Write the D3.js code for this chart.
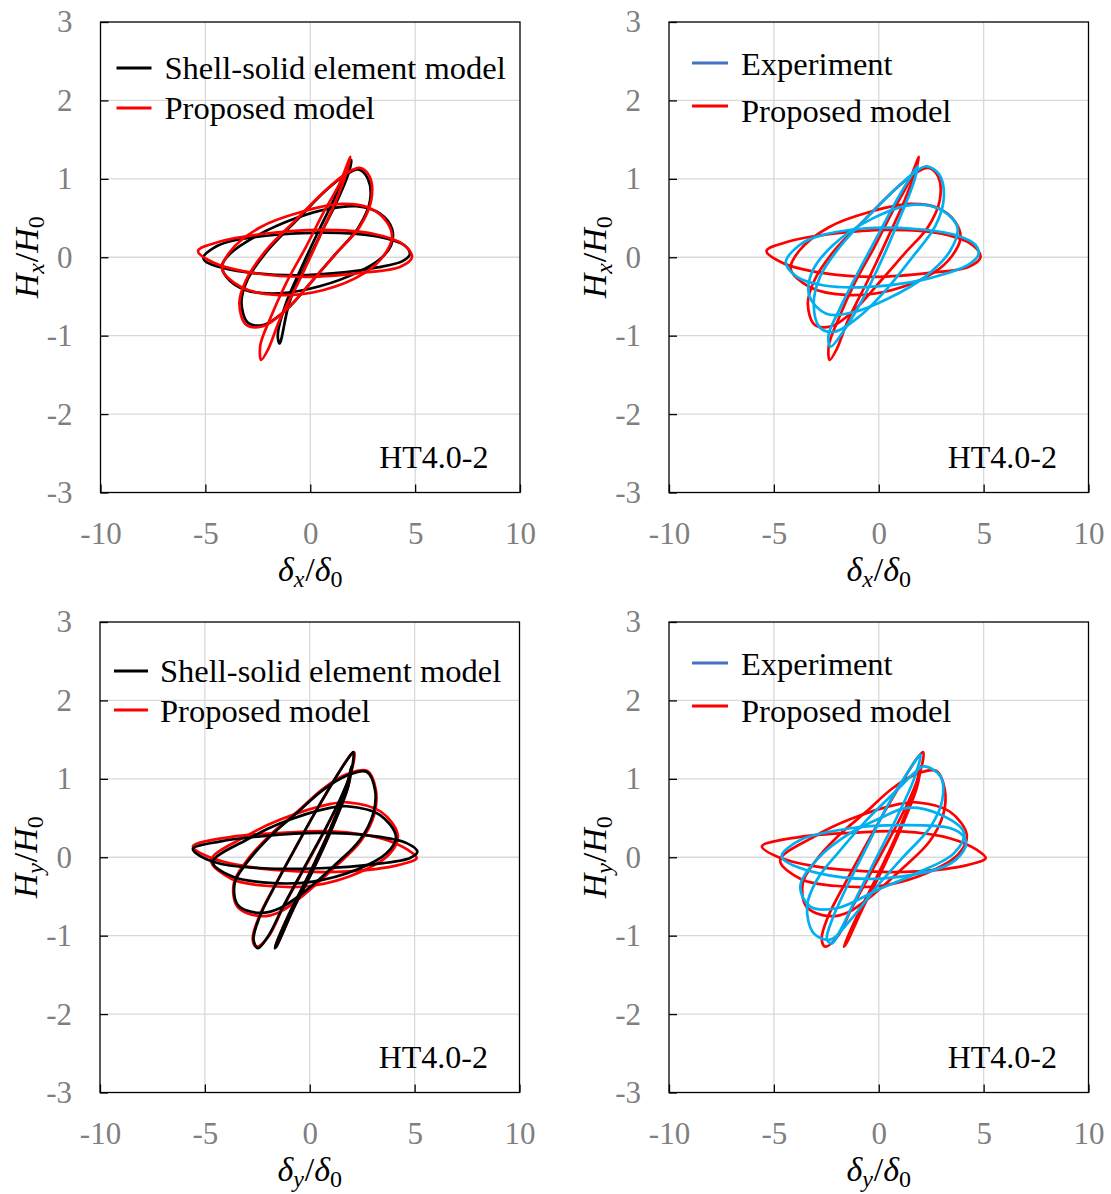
<!DOCTYPE html>
<html><head><meta charset="utf-8">
<script src="https://cdn.jsdelivr.net/npm/d3@7"></script>
<style>body{margin:0;background:#fff}svg{display:block}</style>
</head><body>
<script>
// Axis ticks shared by all four panels
const xTicks = [-10, -5, 0, 5, 10];
const yTicks = [-3, -2, -1, 0, 1, 2, 3];
const caseLabel = "HT4.0-2";

// Hysteresis loops, one array of [delta/delta0, H/H0] points per cycle
const proposedX = [
  [[-5.35,0.08],[-4.3,0.2],[-2.2,0.3],[0.5,0.35],[3.0,0.3],[4.45,0.16],[4.85,0.0],[4.3,-0.12],[2.4,-0.2],[-0.1,-0.25],[-2.7,-0.2],[-4.6,-0.07]],
  [[-4.2,-0.15],[-3.8,0.08],[-2.4,0.38],[-0.4,0.58],[1.5,0.68],[2.8,0.63],[3.65,0.45],[3.9,0.25],[3.5,0.02],[2.6,-0.2],[0.6,-0.42],[-1.6,-0.48],[-3.3,-0.38]],
  [[2.36,1.14],[2.83,1.03],[2.91,0.73],[2.36,0.39],[1.24,0.05],[0.13,-0.29],[-1.15,-0.67],[-2.26,-0.88],[-3.06,-0.86],[-3.38,-0.59],[-3.06,-0.29],[-2.1,0.09],[-0.67,0.48],[0.76,0.86],[1.72,1.07]],
  [[1.91,1.28],[1.75,1.1],[1.24,0.73],[0.45,0.26],[-0.51,-0.29],[-1.46,-0.8],[-2.02,-1.18],[-2.34,-1.31],[-2.38,-1.12],[-1.94,-0.8],[-1.15,-0.33],[-0.19,0.14],[0.61,0.56],[1.4,0.94]]
];
const shellX = [
  [[-5.1,0.0],[-4.6,0.12],[-3.85,0.2],[-1.46,0.29],[1.4,0.31],[3.63,0.24],[4.5,0.15],[4.75,0.04],[4.4,-0.05],[3.2,-0.13],[1.72,-0.19],[-0.67,-0.23],[-3.06,-0.19],[-4.5,-0.11],[-5.0,-0.05]],
  [[2.2,0.65],[3.31,0.56],[3.9,0.36],[3.85,0.15],[3.3,-0.03],[2.36,-0.18],[0.45,-0.37],[-1.46,-0.46],[-3.06,-0.42],[-4.0,-0.25],[-4.2,-0.1],[-3.8,0.05],[-2.58,0.27],[-0.67,0.5],[0.92,0.62]],
  [[2.3,1.12],[2.75,1.0],[2.85,0.72],[2.3,0.38],[1.2,0.04],[0.1,-0.3],[-1.1,-0.66],[-2.2,-0.86],[-2.95,-0.84],[-3.28,-0.58],[-2.98,-0.28],[-2.05,0.08],[-0.65,0.47],[0.74,0.85],[1.68,1.05]],
  [[1.96,1.24],[1.8,1.05],[1.25,0.7],[0.5,0.3],[-0.3,-0.15],[-1.0,-0.58],[-1.46,-1.1],[-1.55,-1.0],[-1.2,-0.62],[-0.5,-0.18],[0.3,0.28],[1.1,0.72],[1.65,1.05]]
];
const experimentX = [
  [[-4.43,-0.06],[-3.8,0.15],[-2.99,0.26],[-0.61,0.37],[1.78,0.36],[3.69,0.28],[4.6,0.16],[4.75,0.03],[4.3,-0.09],[3.3,-0.2],[1.5,-0.32],[-0.6,-0.38],[-2.6,-0.36],[-3.9,-0.25]],
  [[1.7,0.67],[3.0,0.6],[3.75,0.38],[3.4,0.08],[2.2,-0.25],[0.5,-0.52],[-1.2,-0.7],[-2.5,-0.72],[-3.3,-0.5],[-3.2,-0.2],[-2.2,0.15],[-0.4,0.48]],
  [[2.3,1.16],[2.9,1.05],[3.1,0.75],[2.7,0.4],[1.6,0.0],[0.4,-0.4],[-0.9,-0.75],[-2.1,-0.95],[-2.8,-0.9],[-3.1,-0.6],[-2.8,-0.25],[-1.8,0.15],[-0.4,0.55],[1.0,0.92],[1.8,1.1]],
  [[1.86,1.16],[1.6,0.9],[1.0,0.5],[0.2,0.0],[-0.8,-0.55],[-1.7,-0.95],[-2.3,-1.14],[-2.4,-1.0],[-1.9,-0.68],[-1.0,-0.2],[0.0,0.3],[0.9,0.75],[1.6,1.06]]
];
const proposedY = [
  [[-5.57,0.14],[-3.74,0.26],[-1.35,0.31],[1.04,0.33],[3.42,0.24],[4.7,0.09],[5.1,-0.01],[4.22,-0.1],[1.83,-0.18],[-0.56,-0.18],[-2.95,-0.12],[-4.86,0.01]],
  [[-4.7,-0.04],[-3.1,0.26],[-1.4,0.48],[1.0,0.68],[1.8,0.7],[3.4,0.58],[4.2,0.28],[3.8,0.04],[2.3,-0.2],[0.2,-0.36],[-1.8,-0.37],[-3.7,-0.28]],
  [[2.75,1.1],[3.15,0.86],[3.08,0.55],[2.42,0.2],[1.1,-0.15],[-0.2,-0.46],[-1.45,-0.7],[-2.4,-0.75],[-3.45,-0.63],[-3.62,-0.33],[-3.05,-0.06],[-1.9,0.28],[-0.6,0.58],[0.66,0.88],[1.78,1.06]],
  [[2.12,1.34],[1.99,1.1],[1.43,0.72],[0.64,0.3],[-0.32,-0.17],[-1.27,-0.64],[-1.99,-1.02],[-2.55,-1.14],[-2.72,-1.04],[-2.42,-0.76],[-1.6,-0.33],[-0.64,0.14],[0.32,0.6],[1.27,1.03],[1.85,1.27]],
  [[-1.67,-1.14],[-0.96,-0.71],[0,-0.2],[0.96,0.35],[1.75,0.9],[2.0,1.16],[1.83,0.9],[1.11,0.4],[0.16,-0.16],[-0.8,-0.67],[-1.55,-1.1]]
];
const shellY = [
  [[-5.57,0.11],[-4.3,0.2],[-2.23,0.27],[0.48,0.31],[3.03,0.27],[4.62,0.18],[5.13,0.07],[4.78,-0.01],[3.03,-0.09],[0.48,-0.14],[-2.23,-0.14],[-4.3,-0.08],[-5.41,0.05]],
  [[-4.62,-0.06],[-3.03,0.22],[-1.43,0.43],[0.96,0.63],[1.75,0.65],[3.34,0.54],[4.11,0.26],[3.66,0.05],[2.23,-0.16],[0.16,-0.31],[-1.75,-0.33],[-3.66,-0.25]],
  [[2.71,1.09],[3.11,0.86],[3.03,0.56],[2.39,0.22],[1.11,-0.12],[-0.16,-0.42],[-1.43,-0.65],[-2.39,-0.71],[-3.42,-0.61],[-3.58,-0.33],[-3.03,-0.08],[-1.91,0.26],[-0.64,0.56],[0.64,0.86],[1.75,1.04]],
  [[2.07,1.34],[1.99,1.11],[1.43,0.73],[0.64,0.31],[-0.32,-0.16],[-1.27,-0.63],[-1.99,-1.01],[-2.47,-1.16],[-2.68,-1.05],[-2.39,-0.76],[-1.59,-0.33],[-0.64,0.14],[0.32,0.6],[1.27,1.03],[1.83,1.26]],
  [[-1.67,-1.16],[-0.96,-0.71],[0,-0.2],[0.96,0.35],[1.75,0.9],[1.99,1.16],[1.83,0.9],[1.11,0.4],[0.16,-0.16],[-0.8,-0.67],[-1.59,-1.14]]
];
const experimentY = [
  [[-4.62,0.03],[-3.74,0.22],[-1.35,0.37],[1.04,0.41],[3.42,0.37],[4.06,0.26],[4.14,0.14],[3.42,-0.08],[0.24,-0.27],[-2.95,-0.2],[-4.54,-0.03]],
  [[1.35,0.63],[2.79,0.56],[4.06,0.31],[3.58,0.05],[1.83,-0.2],[-0.08,-0.42],[-1.99,-0.65],[-3.26,-0.63],[-3.74,-0.37],[-2.95,-0.03],[-1.35,0.31],[0.08,0.5]],
  [[2.15,1.16],[2.95,1.03],[3.03,0.73],[2.47,0.39],[1.19,0.01],[-0.08,-0.37],[-1.35,-0.8],[-2.31,-1.05],[-3.1,-0.97],[-3.42,-0.63],[-2.95,-0.29],[-1.83,0.09],[-0.56,0.48],[0.88,0.86],[1.67,1.07]],
  [[1.99,1.31],[1.67,0.99],[0.88,0.52],[-0.08,0.01],[-1.04,-0.5],[-1.83,-0.93],[-2.23,-1.1],[-2.47,-1.05],[-2.23,-0.8],[-1.51,-0.37],[-0.56,0.14],[0.4,0.65],[1.35,1.07]]
];

const COLORS = { shell: "#000000", proposed: "#ff0000", experiment: "#00b0f0", experimentKey: "#4472c4" };
const SERIF = "'Liberation Serif', 'Times New Roman', serif";

const svg = d3.select("body").append("svg").attr("width", 1111).attr("height", 1194);

const PW = 419.5, PH = 470.5;

const panels = [
  { left: 100.5, top: 22, dir: "x",
    layers: [{ data: shellX, color: COLORS.shell }, { data: proposedX, color: COLORS.proposed }],
    legend: { lineX: 16, lineW: 35, textX: 64, items: [
      { label: "Shell-solid element model", color: COLORS.shell, ly: 46, ty: 57 },
      { label: "Proposed model", color: COLORS.proposed, ly: 86, ty: 97 }] } },
  { left: 669, top: 22, dir: "x",
    layers: [{ data: proposedX, color: COLORS.proposed }, { data: experimentX, color: COLORS.experiment }],
    legend: { lineX: 23, lineW: 36, textX: 72, items: [
      { label: "Experiment", color: COLORS.experimentKey, ly: 41, ty: 53 },
      { label: "Proposed model", color: COLORS.proposed, ly: 84, ty: 100 }] } },
  { left: 100, top: 622, dir: "y",
    layers: [{ data: proposedY, color: COLORS.proposed }, { data: shellY, color: COLORS.shell }],
    legend: { lineX: 14, lineW: 34, textX: 60, items: [
      { label: "Shell-solid element model", color: COLORS.shell, ly: 49, ty: 60 },
      { label: "Proposed model", color: COLORS.proposed, ly: 88, ty: 100 }] } },
  { left: 669, top: 622, dir: "y",
    layers: [{ data: proposedY, color: COLORS.proposed }, { data: experimentY, color: COLORS.experiment }],
    legend: { lineX: 23, lineW: 36, textX: 72, items: [
      { label: "Experiment", color: COLORS.experimentKey, ly: 41, ty: 53 },
      { label: "Proposed model", color: COLORS.proposed, ly: 84, ty: 100 }] } }
];

function mathLabel(sel, base, sub, base2, sub2) {
  // symbol_sub / symbol_0 with italic symbols and smaller subscripts
  sel.append("tspan").attr("font-style", "italic").text(base);
  sel.append("tspan").attr("font-style", "italic").attr("font-size", 24).attr("dy", 6).text(sub);
  sel.append("tspan").attr("dy", -6).attr("dx", 1).text("/");
  sel.append("tspan").attr("font-style", "italic").text(base2);
  sel.append("tspan").attr("font-size", 24).attr("dy", 6).text(sub2);
}

const tickFmt = d => String(d);

panels.forEach(p => {
  const x = d3.scaleLinear().domain([-10, 10]).range([p.left, p.left + PW]);
  const y = d3.scaleLinear().domain([-3, 3]).range([p.top + PH, p.top]);
  const g = svg.append("g");

  // grid
  g.append("g").selectAll("line").data(xTicks.slice(1, -1)).join("line")
    .attr("x1", d => x(d)).attr("x2", d => x(d)).attr("y1", p.top).attr("y2", p.top + PH)
    .attr("stroke", "#d9d9d9").attr("stroke-width", 1.3);
  g.append("g").selectAll("line").data(yTicks.slice(1, -1)).join("line")
    .attr("y1", d => y(d)).attr("y2", d => y(d)).attr("x1", p.left).attr("x2", p.left + PW)
    .attr("stroke", "#d9d9d9").attr("stroke-width", 1.3);

  // axes with inward ticks
  const ax = g.append("g").attr("transform", `translate(0,${p.top + PH})`)
    .call(d3.axisBottom(x).tickValues(xTicks).tickFormat(tickFmt).tickSize(-8).tickPadding(29));
  const ay = g.append("g").attr("transform", `translate(${p.left},0)`)
    .call(d3.axisLeft(y).tickValues(yTicks).tickFormat(tickFmt).tickSize(-8).tickPadding(28));
  [ax, ay].forEach(a => {
    a.attr("font-family", null).attr("font-size", null);
    a.select(".domain").remove();
    a.selectAll(".tick line").attr("stroke", "#000").attr("stroke-width", 1.3);
    a.selectAll(".tick text").style("font-family", SERIF).style("font-size", "31px").attr("fill", "#7f7f7f");
  });

  // frame
  g.append("rect").attr("x", p.left).attr("y", p.top).attr("width", PW).attr("height", PH)
    .attr("fill", "none").attr("stroke", "#000").attr("stroke-width", 1.3);

  // loops
  const line = d3.line().x(d => x(d[0])).y(d => y(d[1])).curve(d3.curveCatmullRomClosed.alpha(0.5));
  p.layers.forEach(layer => {
    g.append("g").selectAll("path").data(layer.data).join("path")
      .attr("d", line).attr("fill", "none").attr("stroke", layer.color)
      .attr("stroke-width", 2.7).attr("stroke-linejoin", "round");
  });

  // legend
  const lg = p.legend;
  lg.items.forEach(it => {
    g.append("line").attr("x1", p.left + lg.lineX).attr("x2", p.left + lg.lineX + lg.lineW)
      .attr("y1", p.top + it.ly).attr("y2", p.top + it.ly)
      .attr("stroke", it.color).attr("stroke-width", 3);
    g.append("text").attr("x", p.left + lg.textX).attr("y", p.top + it.ty)
      .style("font-family", SERIF).attr("font-size", 32.5).attr("fill", "#000").text(it.label);
  });

  // specimen label
  g.append("text").attr("x", p.left + 388).attr("y", p.top + 446).attr("text-anchor", "end")
    .style("font-family", SERIF).attr("font-size", 32).attr("fill", "#000").text(caseLabel);

  // axis titles
  const xt = g.append("text").attr("x", p.left + PW / 2).attr("y", p.top + PH + 88)
    .attr("text-anchor", "middle").style("font-family", SERIF).attr("font-size", 34).attr("fill", "#000");
  mathLabel(xt, "δ", p.dir, "δ", "0");
  const yt = g.append("text")
    .attr("transform", `translate(${p.left - 63},${p.top + PH / 2}) rotate(-90)`)
    .attr("text-anchor", "middle").style("font-family", SERIF).attr("font-size", 34).attr("fill", "#000");
  mathLabel(yt, "H", p.dir, "H", "0");
});
</script>
</body></html>
